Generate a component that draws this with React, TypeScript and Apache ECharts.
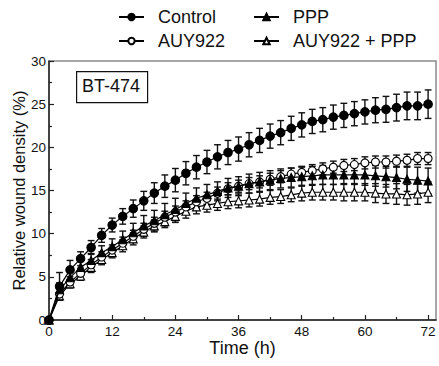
import React, { useEffect, useRef } from "react";
import * as echarts from "echarts";

const hours = [0, 2, 4, 6, 8, 10, 12, 14, 16, 18, 20, 22, 24, 26, 28, 30, 32, 34, 36, 38, 40, 42, 44, 46, 48, 50, 52, 54, 56, 58, 60, 62, 64, 66, 68, 70, 72];

const controlMean = [0, 3.9, 5.8, 7.1, 8.4, 9.8, 11.0, 12.0, 12.9, 13.8, 14.7, 15.5, 16.2, 17.0, 17.7, 18.3, 18.9, 19.4, 19.8, 20.3, 20.8, 21.3, 21.7, 22.2, 22.6, 23.0, 23.2, 23.5, 23.7, 23.9, 24.1, 24.3, 24.4, 24.6, 24.8, 24.8, 25.0];
const controlErr = [0, 1.6, 1.1, 0.8, 0.8, 0.8, 0.8, 0.9, 1.0, 1.1, 1.2, 1.3, 1.35, 1.35, 1.35, 1.35, 1.4, 1.4, 1.4, 1.4, 1.4, 1.4, 1.4, 1.4, 1.4, 1.4, 1.4, 1.4, 1.4, 1.4, 1.4, 1.45, 1.5, 1.55, 1.6, 1.6, 1.65];

const pppMean = [0, 3.5, 4.9, 6.1, 6.9, 7.8, 8.5, 9.3, 10.1, 10.9, 11.5, 12.2, 12.8, 13.5, 14.1, 14.5, 14.9, 15.3, 15.5, 15.8, 16.0, 16.2, 16.4, 16.5, 16.6, 16.7, 16.8, 16.8, 16.8, 16.8, 16.8, 16.7, 16.6, 16.5, 16.3, 16.2, 16.1];
const pppErr = [0, 0.8, 0.8, 0.8, 0.8, 0.8, 0.9, 1.0, 1.1, 1.2, 1.2, 1.3, 1.3, 1.2, 1.2, 1.2, 1.1, 1.1, 1.1, 1.1, 1.1, 1.1, 1.1, 1.1, 1.1, 1.1, 1.1, 1.1, 1.1, 1.1, 1.2, 1.2, 1.2, 1.3, 1.4, 1.5, 1.5];

const auyMean = [0, 3.0, 4.4, 5.4, 6.4, 7.3, 8.1, 8.9, 9.7, 10.5, 11.2, 11.9, 12.5, 13.1, 13.7, 14.1, 14.7, 15.2, 15.5, 15.8, 16.0, 16.3, 16.6, 16.9, 17.1, 17.3, 17.5, 17.7, 17.9, 18.0, 18.2, 18.3, 18.3, 18.4, 18.5, 18.7, 18.7];
const auyErr = [0, 0.6, 0.6, 0.6, 0.6, 0.6, 0.6, 0.7, 0.7, 0.7, 0.7, 0.7, 0.7, 0.7, 0.7, 0.7, 0.7, 0.7, 0.7, 0.7, 0.7, 0.7, 0.7, 0.7, 0.7, 0.7, 0.7, 0.7, 0.7, 0.7, 0.7, 0.7, 0.7, 0.7, 0.7, 0.7, 0.7];

const comboMean = [0, 2.8, 4.2, 5.1, 6.1, 7.0, 7.8, 8.6, 9.4, 10.2, 10.9, 11.4, 12.0, 12.6, 13.1, 13.3, 13.5, 13.7, 13.8, 13.9, 14.0, 14.2, 14.3, 14.5, 14.7, 14.8, 14.8, 14.8, 14.8, 14.8, 14.8, 14.7, 14.6, 14.6, 14.5, 14.6, 14.8];
const comboErr = [0, 0.5, 0.5, 0.5, 0.6, 0.6, 0.6, 0.7, 0.7, 0.7, 0.7, 0.7, 0.7, 0.8, 0.8, 0.8, 0.8, 0.8, 0.8, 0.8, 0.8, 0.8, 0.8, 0.8, 0.9, 0.9, 0.9, 0.9, 1.0, 1.0, 1.0, 1.1, 1.1, 1.2, 1.2, 1.2, 1.2];

const xMajorTicks = [0, 12, 24, 36, 48, 60, 72];
const xMinorTicks = [6, 18, 30, 42, 54, 66];

const FONT = "'Liberation Sans', Arial, sans-serif";
const INK = "#111";

type Def = { name: string; mean: number[]; err: number[]; symbol: string; fill: string; size: number };

const defs: Def[] = [
  { name: "AUY922 + PPP", mean: comboMean, err: comboErr, symbol: "triangle", fill: "#fff", size: 8 },
  { name: "AUY922", mean: auyMean, err: auyErr, symbol: "circle", fill: "#fff", size: 8 },
  { name: "PPP", mean: pppMean, err: pppErr, symbol: "triangle", fill: "#000", size: 8 },
  { name: "Control", mean: controlMean, err: controlErr, symbol: "circle", fill: "#000", size: 8.5 },
];

export default function App() {
  const ref = useRef<HTMLDivElement>(null);
  useEffect(() => {
    if (!ref.current) return;
    const chart = echarts.init(ref.current, null, { renderer: "svg" });

    const series: any[] = [];
    defs.forEach((d, k) => {
      series.push({
        type: "custom",
        name: d.name + " err",
        xAxisIndex: 0,
        yAxisIndex: 0,
        z: 2 + k,
        silent: true,
        data: hours.map((h, i) => [h, d.mean[i] - d.err[i], d.mean[i] + d.err[i]]),
        encode: { x: 0, y: [1, 2] },
        renderItem: (params: any, api: any) => {
          const x = api.value(0);
          const lo = api.coord([x, api.value(1)]);
          const hi = api.coord([x, api.value(2)]);
          if (Math.abs(lo[1] - hi[1]) < 0.5) return null;
          const w = 3.4;
          const st = { stroke: "#111", lineWidth: 1.4 };
          return {
            type: "group",
            children: [
              { type: "line", shape: { x1: lo[0], y1: lo[1], x2: hi[0], y2: hi[1] }, style: st },
              { type: "line", shape: { x1: lo[0] - w, y1: lo[1], x2: lo[0] + w, y2: lo[1] }, style: st },
              { type: "line", shape: { x1: hi[0] - w, y1: hi[1], x2: hi[0] + w, y2: hi[1] }, style: st },
            ],
          };
        },
      });
      series.push({
        type: "line",
        name: d.name,
        xAxisIndex: 0,
        yAxisIndex: 0,
        z: 10 + k,
        data: hours.map((h, i) => [h, d.mean[i]]),
        symbol: d.symbol,
        symbolSize: d.size,
        showAllSymbol: true,
        lineStyle: { color: "#000", width: 1.2 },
        itemStyle: { color: d.fill, borderColor: "#000", borderWidth: 1.1 },
      });
    });

    const legendCommon = {
      orient: "vertical",
      itemWidth: 25,
      itemHeight: 8,
      itemGap: 6,
      textStyle: { fontFamily: FONT, fontSize: 18, color: INK, padding: [0, 0, 0, 9] },
    };

    chart.setOption({
      animation: false,
      backgroundColor: "#fff",
      legend: [
        { ...legendCommon, left: 113, top: 3, data: ["Control", "AUY922"] },
        { ...legendCommon, left: 248, top: 3, data: ["PPP", "AUY922 + PPP"] },
      ],
      grid: {
        left: 49,
        right: 3,
        top: 61,
        bottom: 46,
        show: true,
        borderColor: "#8a8a8a",
        borderWidth: 1.5,
        backgroundColor: "transparent",
        containLabel: false,
        outerBoundsMode: "none",
      },
      xAxis: [
        {
          type: "value",
          min: 0,
          max: 73.5,
          name: "Time (h)",
          nameLocation: "middle",
          nameGap: 19,
          nameMoveOverlap: false,
          nameTextStyle: { fontFamily: FONT, fontSize: 18, color: INK },
          axisLine: { show: true, onZero: false, lineStyle: { color: "#222", width: 1.5 } },
          axisTick: { show: true, inside: true, length: 5, customValues: xMajorTicks, lineStyle: { color: "#222", width: 1.2 } },
          axisLabel: { customValues: xMajorTicks, fontFamily: FONT, fontSize: 13.5, color: INK, margin: 4 },
          splitLine: { show: false },
        },
        {
          type: "value",
          min: 0,
          max: 73.5,
          position: "bottom",
          axisLine: { show: false },
          axisTick: { show: true, inside: true, length: 3, customValues: xMinorTicks, lineStyle: { color: "#222", width: 1.2 } },
          axisLabel: { show: false },
          splitLine: { show: false },
        },
      ],
      yAxis: {
        type: "value",
        min: 0,
        max: 30,
        interval: 5,
        name: "Relative wound density (%)",
        nameLocation: "middle",
        nameGap: 22,
        nameMoveOverlap: false,
        nameTextStyle: { fontFamily: FONT, fontSize: 16.5, color: INK },
        axisLine: { show: true, lineStyle: { color: "#222", width: 1.5 } },
        axisTick: { show: true, inside: true, length: 5, lineStyle: { color: "#222", width: 1.2 } },
        minorTick: { show: true, splitNumber: 2, length: 3, lineStyle: { color: "#222", width: 1.2 } },
        axisLabel: { fontFamily: FONT, fontSize: 13.5, color: INK, margin: 3 },
        splitLine: { show: false },
      },
      graphic: [
        {
          type: "rect",
          left: 76,
          top: 71,
          shape: { width: 71, height: 31 },
          style: { fill: "#fff", stroke: "#111", lineWidth: 1.2 },
          z: 50,
        },
        {
          type: "text",
          left: 82,
          top: 77,
          style: { text: "BT-474", fontFamily: FONT, fontSize: 18, fill: INK },
          z: 51,
        },
      ],
      series,
    });
    return () => chart.dispose();
  }, []);
  return <div ref={ref} style={{ position: "fixed", left: 0, top: 0, width: 439, height: 366 }} />;
}
